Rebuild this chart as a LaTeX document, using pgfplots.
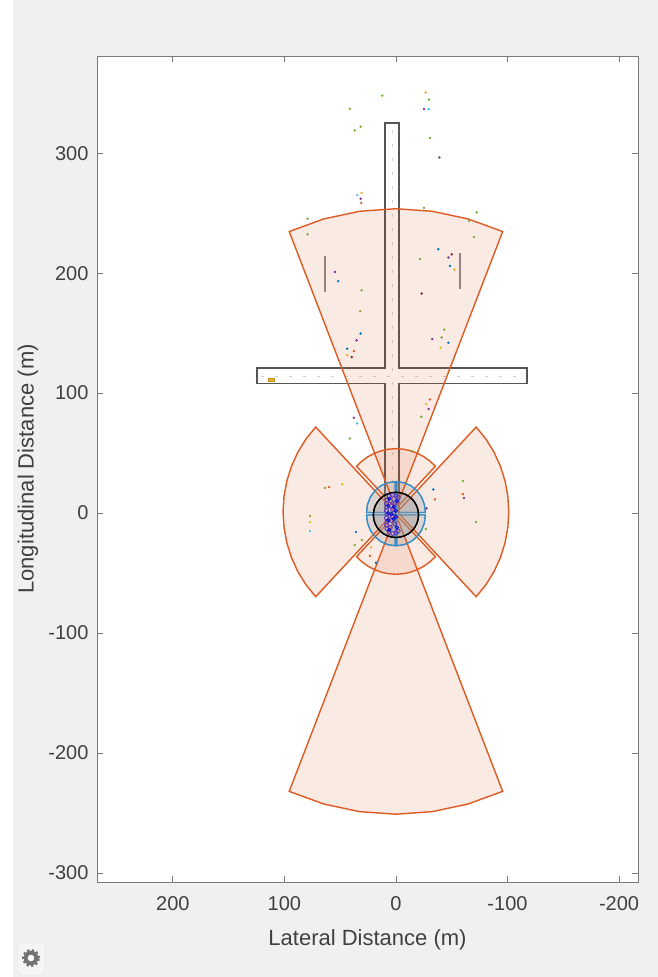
\documentclass[border=0pt]{standalone}
\usepackage{pgfplots}
\pgfplotsset{compat=1.18}
\usepackage{fontspec}
\setmainfont{Liberation Sans}
\definecolor{figgray}{HTML}{F0F0F0}
\definecolor{axisgray}{HTML}{7A7A7A}
\definecolor{labelgray}{HTML}{404040}
\definecolor{mlorange}{HTML}{DD5A22}
\definecolor{mlblue}{HTML}{0072BD}
\definecolor{mlgreen}{HTML}{77AC30}
\definecolor{mlpurple}{HTML}{7E2F8E}
\definecolor{mlcyan}{HTML}{4DBEEE}
\definecolor{mlyellow}{HTML}{EDB120}
\definecolor{mlred}{HTML}{A2142F}
\definecolor{roadgray}{HTML}{555555}
\definecolor{lanegray}{HTML}{D0D0D0}
\definecolor{egoviolet}{HTML}{5B35C0}
\begin{document}
\begin{tikzpicture}
\fill[white] (-97pt,-95pt) rectangle (561pt,882pt);
\fill[figgray] (-84pt,-95pt) rectangle (561pt,882pt);
% gear icon
\fill[white!96!black, draw=black!15, rounded corners=3pt] (-79pt,-93pt) rectangle (-52pt,-61pt);
\draw[black!55, line width=3pt, dash pattern=on 2.2pt off 2.2pt] (-66pt,-76pt) circle (7.5pt);
\fill[black!55] (-66pt,-76pt) circle (7.3pt);
\fill[white] (-66pt,-76pt) circle (3.3pt);
\begin{axis}[
  at={(0,0)}, anchor=south west,
  scale only axis, width=541pt, height=826pt,
  xmin=-217, xmax=268, ymin=-307.5, ymax=381,
  x dir=reverse,
  axis background/.style={fill=white},
  xtick={-200,-100,0,100,200},
  ytick={-300,-200,-100,0,100,200,300},
  tick align=inside, major tick length=6pt,
  axis line style={draw=axisgray, line width=0.8pt},
  every tick/.style={axisgray, line width=0.8pt},
  tick label style={font=\fontsize{20}{24}\selectfont, text=labelgray},
  xticklabel style={yshift=-11pt},
  yticklabel style={xshift=-5pt},
  /pgf/number format/assume math mode=true,
  xlabel={Lateral Distance (m)},
  ylabel={Longitudinal Distance (m)},
  label style={font=\fontsize{22}{26}\selectfont, text=labelgray},
  xlabel style={at={(axis description cs:0.5,-0.0702)}, anchor=center},
  ylabel style={at={(axis description cs:-0.1275,0.5)}, anchor=center, rotate=0},
  clip=true,
]
% road outline
\addplot[draw=roadgray, line width=1.8pt] coordinates {(9.9,0) (9.9,108) (124.4,108) (124.4,120.6) (9.9,120.6) (9.9,325) (-2.7,325) (-2.7,120.6) (-117.8,120.6) (-117.8,108) (-2.7,108) (-2.7,0)};
% lane markings
\addplot[draw=lanegray, line width=0.8pt, dash pattern=on 3pt off 11pt] coordinates {(3.6,2) (3.6,322)};
\addplot[draw=lanegray, line width=0.8pt, dash pattern=on 3pt off 11pt] coordinates {(121,114.3) (-115,114.3)};
% barriers
\addplot[draw=black!45, line width=1.6pt] coordinates {(63.4,184.4) (63.4,214)};
\addplot[draw=black!45, line width=1.6pt] coordinates {(-57.4,186.7) (-57.4,217)};
% target object
\addplot[draw=mlyellow!80!black, fill=mlyellow, line width=0.4pt] coordinates {(114.5,110.2) (109.5,110.2) (109.5,112.2) (114.5,112.2)} -- cycle;
% vision coverage (blue sectors)
\addplot[draw=mlblue!80, line width=1.2pt, fill=mlblue!35!gray!60, fill opacity=0.3] coordinates {(0.7,0.5) (26.4,0.5) (25.52,7.15) (22.96,13.35) (18.87,18.67) (13.55,22.76) (7.35,25.32) (0.7,26.2)} -- cycle;
\addplot[draw=mlblue!80, line width=1.2pt, fill=mlblue!35!gray!60, fill opacity=0.3] coordinates {(-0.7,0.5) (-26.4,0.5) (-25.52,7.15) (-22.96,13.35) (-18.87,18.67) (-13.55,22.76) (-7.35,25.32) (-0.7,26.2)} -- cycle;
\addplot[draw=mlblue!80, line width=1.2pt, fill=mlblue!35!gray!60, fill opacity=0.3] coordinates {(0.7,-1.5) (26.4,-1.5) (25.52,-8.15) (22.96,-14.35) (18.87,-19.67) (13.55,-23.76) (7.35,-26.32) (0.7,-27.2)} -- cycle;
\addplot[draw=mlblue!80, line width=1.2pt, fill=mlblue!35!gray!60, fill opacity=0.3] coordinates {(-0.7,-1.5) (-26.4,-1.5) (-25.52,-8.15) (-22.96,-14.35) (-18.87,-19.67) (-13.55,-23.76) (-7.35,-26.32) (-0.7,-27.2)} -- cycle;
% ego circle
\addplot[only marks, mark=*, mark size=22.6pt, mark options={draw=black, line width=1.3pt, fill=black!40, fill opacity=0.42}] coordinates {(0,-1.5)};
% radar coverage (orange sectors)
\addplot[draw=mlorange, line width=1.4pt, fill=mlorange, fill opacity=0.12] coordinates {(0,3.7) (95.67,234.67) (64.70,245.18) (32.63,251.56) (0,253.7) (-32.63,251.56) (-64.70,245.18) (-95.67,234.67)} -- cycle;
\addplot[draw=mlorange, line width=1.4pt, fill=mlorange, fill opacity=0.12] coordinates {(0,-1) (95.67,-231.97) (64.70,-242.48) (32.63,-248.86) (0,-251) (-32.63,-248.86) (-64.70,-242.48) (-95.67,-231.97)} -- cycle;
\addplot[draw=mlorange, line width=1.4pt, fill=mlorange, fill opacity=0.12] coordinates {(0,3.7) (35.36,39.06) (30.44,43.37) (25,47) (19.13,49.89) (12.94,52) (6.53,53.27) (0,53.7) (-6.53,53.27) (-12.94,52) (-19.13,49.89) (-25,47) (-30.44,43.37) (-35.36,39.06)} -- cycle;
\addplot[draw=mlorange, line width=1.4pt, fill=mlorange, fill opacity=0.12] coordinates {(0,-1) (35.36,-36.36) (30.44,-40.67) (25,-44.30) (19.13,-47.19) (12.94,-49.30) (6.53,-50.57) (0,-51) (-6.53,-50.57) (-12.94,-49.30) (-19.13,-47.19) (-25,-44.30) (-30.44,-40.67) (-35.36,-36.36)} -- cycle;
\addplot[draw=mlorange, line width=1.4pt, fill=mlorange, fill opacity=0.12] coordinates {(1.2,1) (71.91,71.71) (80.54,61.88) (87.80,51.0) (93.59,39.27) (97.79,26.88) (100.34,14.05) (101.2,1) (100.34,-12.05) (97.79,-24.88) (93.59,-37.27) (87.80,-49.0) (80.54,-59.88) (71.91,-69.71)} -- cycle;
\addplot[draw=mlorange, line width=1.4pt, fill=mlorange, fill opacity=0.12] coordinates {(-1.2,1) (-71.91,71.71) (-80.54,61.88) (-87.80,51.0) (-93.59,39.27) (-97.79,26.88) (-100.34,14.05) (-101.2,1) (-100.34,-12.05) (-97.79,-24.88) (-93.59,-37.27) (-87.80,-49.0) (-80.54,-59.88) (-71.91,-69.71)} -- cycle;
% blue sector outlines on top
\addplot[draw=mlblue!80, line width=1.2pt] coordinates {(0.7,0.5) (26.4,0.5) (25.52,7.15) (22.96,13.35) (18.87,18.67) (13.55,22.76) (7.35,25.32) (0.7,26.2)} -- cycle;
\addplot[draw=mlblue!80, line width=1.2pt] coordinates {(-0.7,0.5) (-26.4,0.5) (-25.52,7.15) (-22.96,13.35) (-18.87,18.67) (-13.55,22.76) (-7.35,25.32) (-0.7,26.2)} -- cycle;
\addplot[draw=mlblue!80, line width=1.2pt] coordinates {(0.7,-1.5) (26.4,-1.5) (25.52,-8.15) (22.96,-14.35) (18.87,-19.67) (13.55,-23.76) (7.35,-26.32) (0.7,-27.2)} -- cycle;
\addplot[draw=mlblue!80, line width=1.2pt] coordinates {(-0.7,-1.5) (-26.4,-1.5) (-25.52,-8.15) (-22.96,-14.35) (-18.87,-19.67) (-13.55,-23.76) (-7.35,-26.32) (-0.7,-27.2)} -- cycle;
\addplot[only marks, mark=o, mark size=22.6pt, mark options={draw=black, line width=1.3pt}] coordinates {(0,-1.5)};
% ego detections cluster
\addplot[only marks, mark=o, mark size=2pt, mark options={draw=egoviolet, line width=0.9pt}] coordinates {
(6,14) (3,15) (0,14.5) (-2,13) (8,11) (8.5,8) (8,5) (8.5,2) (8,-1) (8.5,-4) (8,-7) (8.5,-10) (8,-13)
(6,-16) (3,-17) (0,-16.5) (-2,-15) (4,6) (3,3) (2,0) (3,-3) (4,-6) (1,8) (1,-9) (5,10) (5,-12)};
\addplot[only marks, mark=o, mark size=1.6pt, mark options={draw=blue!85!black, line width=0.8pt}] coordinates {
(6,12) (7,6) (7,0) (7,-6) (6,-14) (2,5) (2,-5) (-1,10) (-1,-12) (0,2) (0,-3) (4,-1)};
% detections
\addplot[only marks, mark=*, mark size=1pt, color=mlgreen] coordinates {
(41.3,337) (31.7,322) (37,319) (-30.5,312.8) (-25.1,254.4) (79.2,245.3) (-72.4,250.6) (-65.5,243.6)
(12.3,348) (-29.6,344.7) (-70,230) (-21.5,211.7) (79.2,232.5) (30.8,185.8) (32,168.3) (-43.3,153)
(-41,146.4) (-22.7,80.3) (41.3,62.2) (-14,51.7) (30.5,-22.5) (37,-26.7) (-26.9,-13.3) (63.7,21) (-60,26.7)
(77,-2.5) (-71.7,-7.5)};
\addplot[only marks, mark=*, mark size=1pt, color=mlpurple] coordinates {
(-25.1,336.7) (-38.9,296.4) (31.7,262) (-47,213) (54.7,201) (35.3,144) (-32.6,145) (-29.3,86.7) (37.7,79.4) (-27.5,4) (-61,12.5)};
\addplot[only marks, mark=*, mark size=1pt, color=mlcyan] coordinates {
(-29.3,336.7) (34.7,265) (34.7,74.7) (77,-15)};
\addplot[only marks, mark=*, mark size=1pt, color=mlblue] coordinates {
(-38,220) (-48.4,206) (51.7,193.3) (31.7,149.7) (43.7,137) (-47,142) (-33.5,19.7) (35.9,-15.8) (17.9,-41.4)};
\addplot[only marks, mark=*, mark size=1pt, color=mlyellow] coordinates {
(-26.6,350.6) (30.8,267) (-52.3,203) (43.7,131.7) (-40,137.8) (-27,91) (22.4,-28.6) (48,24) (77,-7.5)};
\addplot[only marks, mark=*, mark size=1pt, color=mlorange] coordinates {
(31.1,258.6) (37.7,135) (-30.5,94.7) (-35,11.4) (23.3,-35.6) (60,21.7) (-60,15.8)};
\addplot[only marks, mark=*, mark size=1pt, color=mlred] coordinates {
(-50,215.6) (-23,183) (39.7,130)};
\end{axis}
\end{tikzpicture}
\end{document}
